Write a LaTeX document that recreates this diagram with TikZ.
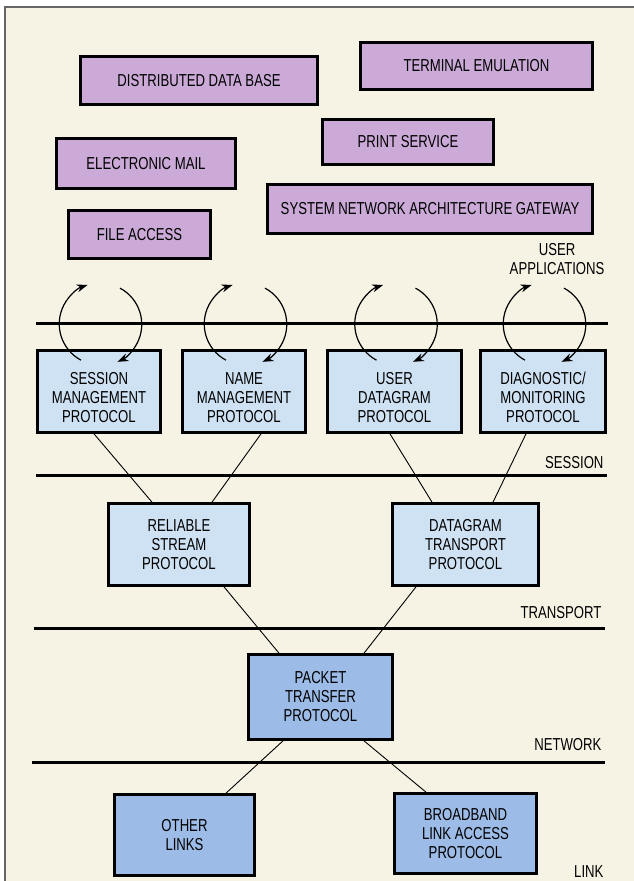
\documentclass[tikz,border=0pt]{standalone}
\usepackage{fontspec}
\setmainfont{Liberation Sans}[FakeStretch=0.76]
\usepackage{tikz}
\usetikzlibrary{positioning}
\usetikzlibrary{shapes,arrows.meta}
\definecolor{paper}{RGB}{246,243,228}
\definecolor{appviolet}{RGB}{203,170,216}
\definecolor{sesblue}{RGB}{207,226,243}
\definecolor{netblue}{RGB}{156,187,230}
\tikzstyle{appbox} = [rectangle, draw, line width=2.7pt, fill=appviolet, align=center, inner sep=0pt,
  font=\fontsize{17.3}{19}\selectfont]
\tikzstyle{sesbox} = [appbox, fill=sesblue, minimum height=82pt]
\tikzstyle{protobox} = [sesbox, text height=62pt]
\tikzstyle{netbox} = [appbox, fill=netblue, minimum height=82pt]
\tikzstyle{layername} = [draw=none, fill=none, anchor=east, align=center,
  font=\fontsize{17.3}{19}\selectfont]
\tikzstyle{layer} = [draw, line width=3pt]
\tikzstyle{link} = [draw, line width=0.9pt]
\tikzstyle{swap} = [draw, line width=1.2pt, -{Stealth[length=11pt,width=8pt]}]

\begin{document}
\begin{tikzpicture}[x=1pt, y=1pt]
	% page and frame
	\useasboundingbox (0,0) rectangle (634,-881);
	\fill[white] (0,0) rectangle (634,-881);
	\fill[paper] (5,-7) rectangle (634,-881);
	\draw[gray!80!black, line width=1.4pt] (5,-881) -- (5,-7) -- (634,-7);

	% user applications
	\node [appbox, minimum width=237pt, minimum height=48pt] (ddb)  at (199,-80.5) {DISTRIBUTED DATA BASE};
	\node [appbox, minimum width=232pt, minimum height=47pt] (term) at (476.5,-66) {TERMINAL EMULATION};
	\node [appbox, minimum width=179pt, minimum height=50pt] (mail) at (146,-163.5) {ELECTRONIC MAIL};
	\node [appbox, minimum width=171pt, minimum height=45pt] (print) at (408,-142) {PRINT SERVICE};
	\node [appbox, minimum width=325pt, minimum height=49pt] (sna)  at (430,-209) {SYSTEM NETWORK ARCHITECTURE GATEWAY};
	\node [appbox, minimum width=142pt, minimum height=48pt] (file) at (139.5,-234.5) {FILE ACCESS};
	\node [layername] (userlbl) at (608,-259) {USER\\APPLICATIONS};

	% session layer
	\draw [layer] (36,-323) -- (608,-323);
	\node [protobox, minimum width=123pt] (sesmgmt)  at (99,-391.5)  {SESSION\\MANAGEMENT\\PROTOCOL};
	\node [protobox, minimum width=123pt] (namemgmt) at (244,-391.5) {NAME\\MANAGEMENT\\PROTOCOL};
	\node [protobox, minimum width=134pt] (userdg)   at (394.5,-391.5) {USER\\DATAGRAM\\PROTOCOL};
	\node [protobox, minimum width=125pt] (diagmon)  at (543,-391.5) {DIAGNOSTIC/\\MONITORING\\PROTOCOL};
	\node [layername] (seslbl) at (607,-463) {SESSION};
	\draw [layer] (36,-475) -- (607,-475);

	% transport layer
	\node [sesbox, minimum width=141pt] (relstream) at (179,-544.5)   {RELIABLE\\STREAM\\PROTOCOL};
	\node [sesbox, minimum width=146pt] (dgtrans)   at (465.5,-544.5) {DATAGRAM\\TRANSPORT\\PROTOCOL};
	\node [layername] (translbl) at (605,-613) {TRANSPORT};
	\draw [layer] (34,-628) -- (605,-628);

	% network and link layers
	\node [netbox, minimum width=144pt, minimum height=85pt] (packet) at (320.5,-697) {PACKET\\TRANSFER\\PROTOCOL};
	\node [layername] (netlbl) at (605,-745) {NETWORK};
	\draw [layer] (32,-762) -- (605,-762);
	\node [netbox, minimum width=140pt, minimum height=81pt] (otherlinks) at (184.5,-835) {OTHER\\LINKS};
	\node [netbox, minimum width=142pt, minimum height=80pt] (broadband)  at (465.5,-833.5) {BROADBAND\\LINK ACCESS\\PROTOCOL};
	\node [layername] (linklbl) at (607,-872) {LINK};

	% exchanges with the applications
	\path [swap] ([shift={(-18,-11)}]sesmgmt.north) arc[start angle=242, end angle=108, radius=41];
	\path [swap] ([shift={(21,61)}]sesmgmt.north) arc[start angle=62, end angle=-66, radius=41];
	\path [swap] ([shift={(-18,-11)}]namemgmt.north) arc[start angle=242, end angle=108, radius=41];
	\path [swap] ([shift={(21,61)}]namemgmt.north) arc[start angle=62, end angle=-66, radius=41];
	\path [swap] ([shift={(-18,-11)}]userdg.north) arc[start angle=242, end angle=108, radius=41];
	\path [swap] ([shift={(21,61)}]userdg.north) arc[start angle=62, end angle=-66, radius=41];
	\path [swap] ([shift={(-18,-11)}]diagmon.north) arc[start angle=242, end angle=108, radius=41];
	\path [swap] ([shift={(21,61)}]diagmon.north) arc[start angle=62, end angle=-66, radius=41];

	% draw edges
	\path [link] ([xshift=-5pt]sesmgmt.south)   -- ([xshift=-27pt]relstream.north);
	\path [link] ([xshift=17pt]namemgmt.south)  -- ([xshift=33pt]relstream.north);
	\path [link] ([xshift=-4.5pt]userdg.south)  -- ([xshift=-33.5pt]dgtrans.north);
	\path [link] ([xshift=-17pt]diagmon.south)  -- ([xshift=27.5pt]dgtrans.north);
	\path [link] ([xshift=45pt]relstream.south) -- ([xshift=-41.5pt]packet.north);
	\path [link] ([xshift=-49.5pt]dgtrans.south) -- ([xshift=43.5pt]packet.north);
	\path [link] ([xshift=-37.5pt]packet.south) -- ([xshift=41.5pt]otherlinks.north);
	\path [link] ([xshift=43.5pt]packet.south)  -- ([xshift=-39.5pt]broadband.north);
\end{tikzpicture}
\end{document}
